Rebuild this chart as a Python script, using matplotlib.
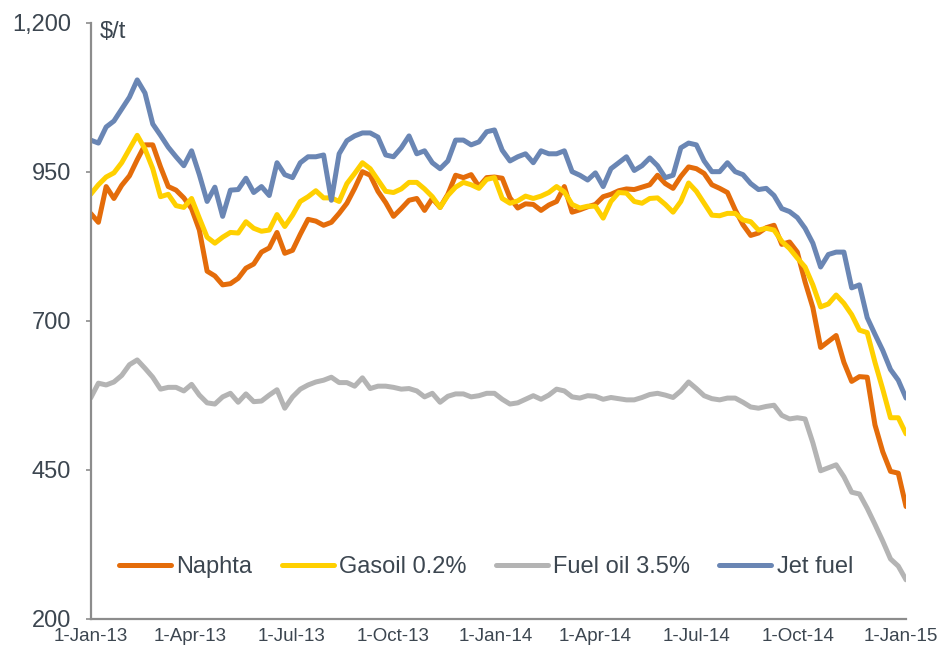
import matplotlib
matplotlib.use("Agg")
import matplotlib.pyplot as plt
import pandas as pd

# Weekly readings, starting 1-Jan-2013
start_date = "2013-01-01"
n_weeks = 106

naphta = [880, 865, 925, 905, 927, 943, 970, 995, 995, 958,
          925, 919, 906, 888, 852, 783, 775, 760, 762, 771,
          788, 795, 815, 822, 848, 813, 818, 845, 870, 867,
          860, 865, 880, 897, 922, 950, 944, 917, 898, 875,
          888, 902, 905, 885, 905, 890, 912, 944, 940, 945,
          925, 940, 941, 939, 906, 889, 896, 895, 885, 894,
          900, 925, 882, 886, 891, 895, 908, 912, 918, 921,
          920, 924, 928, 944, 930, 922, 942, 958, 955, 947,
          928, 922, 915, 886, 861, 843, 847, 856, 860, 828,
          832, 815, 765, 722, 655, 665, 675, 630, 598, 606,
          605, 525, 480, 447, 444, 388]

gasoil = [912, 928, 941, 948, 965, 988, 1011, 988, 955, 908,
          912, 893, 890, 905, 872, 840, 830, 840, 848, 847,
          866, 855, 850, 852, 878, 858, 877, 900, 908, 918,
          906, 906, 900, 930, 947, 965, 955, 936, 917, 915,
          921, 932, 932, 921, 908, 890, 910, 924, 932, 928,
          922, 937, 940, 905, 897, 901, 909, 905, 909, 915,
          925, 916, 895, 889, 892, 892, 872, 900, 915, 914,
          900, 897, 905, 906, 895, 882, 900, 931, 917, 897,
          877, 876, 880, 880, 869, 866, 852, 855, 852, 833,
          821, 805, 790, 760, 723, 728, 743, 729, 710, 684,
          680, 630, 585, 537, 537, 510]

fuel_oil = [570, 595, 592, 597, 608, 626, 634, 620, 605, 585,
            588, 588, 582, 593, 575, 562, 560, 572, 578, 563,
            577, 564, 565, 575, 584, 553, 572, 585, 592, 597,
            600, 605, 596, 596, 590, 604, 586, 590, 590, 588,
            585, 586, 582, 572, 578, 563, 573, 577, 577, 572,
            574, 578, 578, 568, 560, 562, 568, 574, 568, 575,
            585, 582, 572, 570, 574, 573, 568, 571, 569, 567,
            567, 571, 576, 578, 575, 571, 582, 597, 586, 574,
            569, 567, 570, 570, 563, 555, 553, 556, 558, 541,
            535, 537, 535, 495, 448, 453, 458, 438, 412, 409,
            385, 358, 330, 300, 288, 265]

jet_fuel = [1003, 998, 1025, 1035, 1055, 1075, 1104, 1082, 1030, 1011,
            991, 975, 960, 985, 945, 900, 924, 875, 919, 920,
            939, 915, 925, 910, 965, 945, 940, 965, 975, 975,
            978, 902, 980, 1002, 1010, 1015, 1015, 1008, 978, 975,
            990, 1010, 980, 985, 965, 955, 968, 1003, 1003, 995,
            1000, 1017, 1020, 986, 968, 975, 980, 965, 985, 980,
            980, 985, 950, 944, 936, 948, 925, 955, 965, 975,
            952, 960, 973, 960, 940, 944, 990, 998, 995, 968,
            950, 950, 965, 950, 945, 930, 920, 922, 910, 888,
            883, 873, 855, 830, 790, 811, 815, 815, 755, 760,
            705, 677, 650, 618, 600, 570]

series_names = ["Naphta", "Gasoil 0.2%", "Fuel oil 3.5%", "Jet fuel"]
series_values = [naphta, gasoil, fuel_oil, jet_fuel]
series_colors = ["#E46C0A", "#FFD000", "#B4B4B4", "#6A86B4"]

x_tick_dates = ["2013-01-01", "2013-04-01", "2013-07-01", "2013-10-01",
                "2014-01-01", "2014-04-01", "2014-07-01", "2014-10-01",
                "2015-01-01"]
x_tick_labels = ["1-Jan-13", "1-Apr-13", "1-Jul-13", "1-Oct-13", "1-Jan-14",
                 "1-Apr-14", "1-Jul-14", "1-Oct-14", "1-Jan-15"]
y_ticks = [200, 450, 700, 950, 1200]
y_tick_labels = ["200", "450", "700", "950", "1,200"]

plt.rcParams["font.family"] = ["Liberation Sans", "DejaVu Sans"]
text_color = "#3C4650"
axis_color = "#8C8C8C"

dates = pd.date_range(start_date, periods=n_weeks, freq="7D")

fig = plt.figure(figsize=(9.43, 6.47), dpi=100)
ax = fig.add_axes([0.0961, 0.0440, 0.8647, 0.9209])

for name, vals, col in zip(series_names, series_values, series_colors):
    ax.plot(dates, vals, color=col, lw=3.6, label=name,
            solid_joinstyle="round", solid_capstyle="round")

ax.set_xlim(pd.Timestamp("2013-01-01"), pd.Timestamp("2015-01-06"))
ax.set_ylim(200, 1200)

ax.set_xticks(pd.to_datetime(x_tick_dates))
ax.set_xticklabels(x_tick_labels)
ax.set_yticks(y_ticks)
ax.set_yticklabels(y_tick_labels)

ax.tick_params(axis="x", length=0, pad=7, labelsize=13.5, labelcolor=text_color)
ax.tick_params(axis="y", length=3.6, width=1.2, color=axis_color, pad=10.5,
               labelsize=17, labelcolor=text_color, direction="out")

for side in ["top", "right"]:
    ax.spines[side].set_visible(False)
for side in ["left", "bottom"]:
    ax.spines[side].set_color(axis_color)
    ax.spines[side].set_linewidth(1.6)

fig.text(100 / 943, 1 - 21 / 647, r"\$/t", fontsize=17, color=text_color,
         ha="left", va="top")

leg = fig.legend(loc="center left", bbox_to_anchor=(119 / 943, 1 - 567 / 647),
                 ncol=4, frameon=False, fontsize=17, handlelength=2.2,
                 handletextpad=0.22, columnspacing=1.25, borderpad=0,
                 borderaxespad=0)
for t in leg.get_texts():
    t.set_color(text_color)
for h in leg.get_lines():
    h.set_linewidth(3.6)
    h.set_solid_capstyle("round")

fig.savefig("out.png", dpi=100)
